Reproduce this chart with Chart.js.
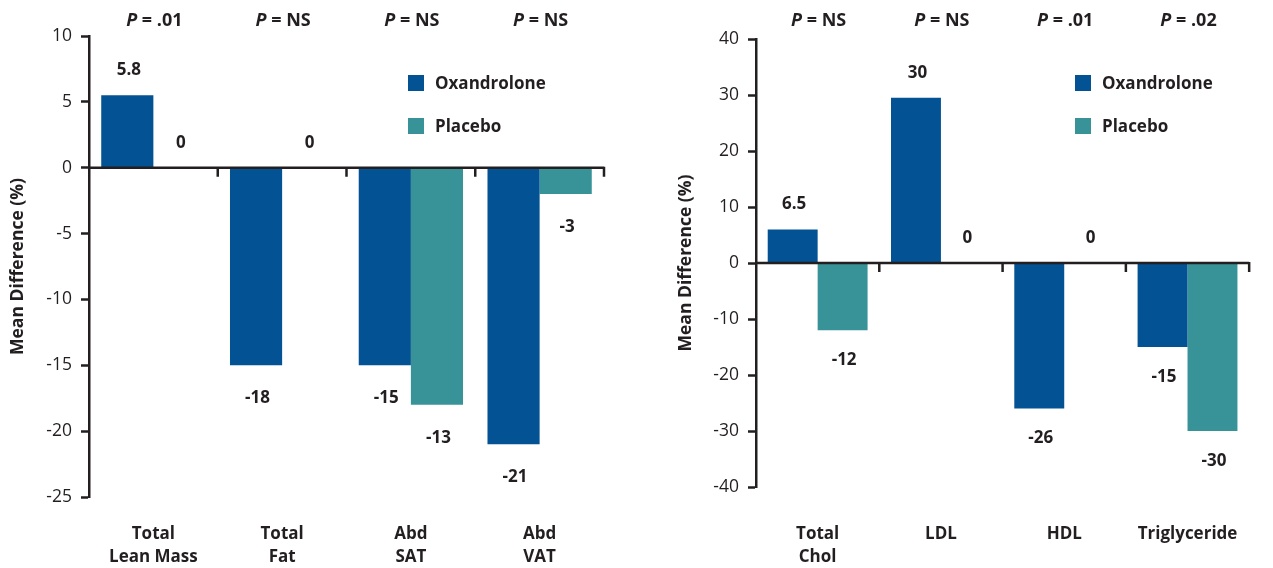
<!DOCTYPE html>
<html>
<head>
<meta charset="utf-8">
<script src="https://cdn.jsdelivr.net/npm/chart.js@4.4.1/dist/chart.umd.min.js"></script>
<style>
  html, body { margin: 0; padding: 0; background: #fff; }
  #wrap { position: relative; width: 1273px; height: 568px; overflow: hidden; }
  canvas { position: absolute; top: 0; }
</style>
</head>
<body>
<div id="wrap">
  <canvas id="bodyChart" width="636" height="568" style="left:0"></canvas>
  <canvas id="lipidChart" width="605" height="568" style="left:668px"></canvas>
</div>
<script>
// data - body composition panel
const bodyCategories = [["Total", "Lean Mass"], ["Total", "Fat"], ["Abd", "SAT"], ["Abd", "VAT"]];
const bodyOxandrolone = [5.5, -15, -15, -21];
const bodyPlacebo = [0, 0, -18, -2];
const bodyOxLabels = ["5.8", "-18", "-15", "-21"];
const bodyPlLabels = ["0", "0", "-13", "-3"];
const bodyPValues = [".01", "NS", "NS", "NS"];

// data - lipid panel
const lipidCategories = [["Total", "Chol"], "LDL", "HDL", "Triglyceride"];
const lipidOxandrolone = [6, 29.5, -26, -15];
const lipidPlacebo = [-12, 0, 0, -30];
const lipidOxLabels = ["6.5", "30", "-26", "-15"];
const lipidPlLabels = ["-12", "0", "0", "-30"];
const lipidPValues = ["NS", "NS", ".01", ".02"];

const INK = "#231f20";
const BLUE = "#035293";
const TEAL = "#389399";
const FONT = '"Open Sans", "DejaVu Sans", sans-serif';

// zero line, category ticks, value labels, P values and legend
const panelPlugin = {
  id: "panel",
  afterDatasetsDraw(chart, args, opts) {
    const ctx = chart.ctx;
    const xs = chart.scales.x, ys = chart.scales.y;
    const area = chart.chartArea;
    const y0 = ys.getPixelForValue(0);
    ctx.save();

    ctx.strokeStyle = INK;
    ctx.lineWidth = 2.5;
    ctx.beginPath();
    ctx.moveTo(area.left, y0);
    ctx.lineTo(area.right, y0);
    const half = (xs.getPixelForValue(1) - xs.getPixelForValue(0)) / 2;
    for (let i = 0; i < chart.data.labels.length; i++) {
      const bx = xs.getPixelForValue(i) + half;
      ctx.moveTo(bx, y0 - 1);
      ctx.lineTo(bx, y0 + 9);
    }
    ctx.stroke();

    ctx.fillStyle = INK;
    ctx.textAlign = "center";
    ctx.textBaseline = "middle";
    ctx.font = "bold 17px " + FONT;
    chart.data.datasets.forEach((ds, di) => {
      chart.getDatasetMeta(di).data.forEach((bar, i) => {
        const v = ds.data[i];
        const ty = v >= 0 ? bar.y - opts.above : bar.y + opts.below;
        ctx.fillText(opts.labels[di][i], bar.x + 1.5, ty);
      });
    });

    // P values
    ctx.textAlign = "left";
    opts.pValues.forEach((p, i) => {
      const cx = xs.getPixelForValue(i) + 1;
      ctx.font = "italic bold 18px " + FONT;
      const wP = ctx.measureText("P").width;
      ctx.font = "bold 18px " + FONT;
      const rest = " = " + p;
      const wR = ctx.measureText(rest).width;
      const sx = cx - (wP + wR) / 2;
      ctx.font = "italic bold 18px " + FONT;
      ctx.fillText("P", sx, 21);
      ctx.font = "bold 18px " + FONT;
      ctx.fillText(rest, sx + wP, 21);
    });

    // legend
    const lx = area.left + 319;
    const rows = [75, 118];
    ctx.font = "bold 17px " + FONT;
    chart.data.datasets.forEach((ds, di) => {
      ctx.fillStyle = ds.backgroundColor;
      ctx.fillRect(lx, rows[di], 16, 16);
      ctx.fillStyle = INK;
      ctx.fillText(ds.label, lx + 27, rows[di] + 9.5);
    });
    ctx.restore();
  }
};

function makePanel(id, cats, ox, pl, oxLabels, plLabels, pValues, yMin, yMax, step, pad, below) {
  const ctx = document.getElementById(id).getContext("2d");
  return new Chart(ctx, {
    type: "bar",
    data: {
      labels: cats,
      datasets: [
        { label: "Oxandrolone", data: ox, backgroundColor: BLUE },
        { label: "Placebo", data: pl, backgroundColor: TEAL }
      ]
    },
    options: {
      responsive: false,
      animation: false,
      categoryPercentage: 0.81,
      barPercentage: 1,
      layout: { padding: { top: pad.top, right: pad.right, left: 0, bottom: 0 } },
      plugins: {
        legend: { display: false },
        tooltip: { enabled: false },
        panel: { labels: [oxLabels, plLabels], pValues: pValues, above: 25, below: below }
      },
      scales: {
        x: {
          grid: { display: false, drawTicks: false },
          border: { display: false },
          ticks: {
            color: INK,
            padding: pad.xLabel,
            maxRotation: 0,
            autoSkip: false,
            font: { family: FONT, size: 17, weight: "bold", lineHeight: 1.35 }
          },
          afterFit: (s) => { s.height = pad.xHeight; }
        },
        y: {
          min: yMin,
          max: yMax,
          ticks: { stepSize: step, color: INK, padding: 9, font: { family: FONT, size: 17.5 } },
          grid: { drawOnChartArea: false, tickLength: 8, tickColor: INK, tickWidth: 2.5 },
          border: { display: true, color: INK, width: 2.5 },
          title: {
            display: true,
            text: "Mean Difference (%)",
            color: INK,
            padding: { top: 8, bottom: 0 },
            font: { family: FONT, size: 17.5, weight: "bold" }
          },
          afterFit: (s) => { s.width = pad.yWidth; }
        }
      }
    },
    plugins: [panelPlugin]
  });
}

makePanel("bodyChart", bodyCategories, bodyOxandrolone, bodyPlacebo, bodyOxLabels, bodyPlLabels, bodyPValues,
  -25, 10, 5, { top: 36, right: 32, yWidth: 89, xHeight: 71, xLabel: 25.5 }, 33);
makePanel("lipidChart", lipidCategories, lipidOxandrolone, lipidPlacebo, lipidOxLabels, lipidPlLabels, lipidPValues,
  -40, 40, 10, { top: 39, right: 1, yWidth: 88, xHeight: 81, xLabel: 35.5 }, 30);
</script>
</body>
</html>
